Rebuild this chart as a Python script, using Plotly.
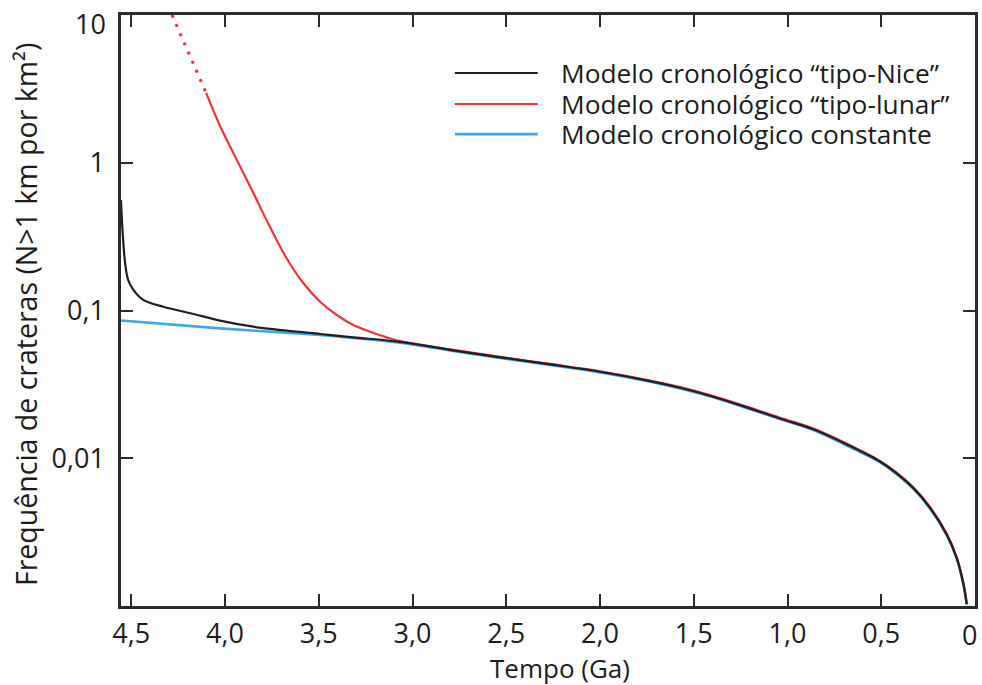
import plotly.graph_objects as go

# Crater-frequency chronology models: N(>1 km) per km^2 versus age (Ga)
nice_age = [4.555, 4.547, 4.533, 4.517, 4.489, 4.436, 4.329, 4.169, 4.027, 3.849,
            3.671, 3.493, 3.316, 3.067, 2.8, 2.533, 2.267, 2.0, 1.733, 1.573,
            1.396, 1.218, 1.04, 0.862, 0.684, 0.507, 0.418, 0.329, 0.24, 0.151,
            0.098, 0.062, 0.044]
nice_n = [0.56, 0.351, 0.209, 0.161, 0.138, 0.118, 0.106, 0.0947, 0.0855, 0.0777,
          0.073, 0.0693, 0.0658, 0.0614, 0.0542, 0.0482, 0.0432, 0.0385, 0.0333, 0.0300,
          0.0261, 0.0221, 0.0186, 0.0157, 0.0124, 0.0095, 0.0079, 0.00628, 0.00462, 0.00305,
          0.00212, 0.00141, 0.00103]

# Lunar-like model: extrapolated (dotted) part and computed (solid) part
lunar_extrap_age = [4.283, 4.196, 4.101]
lunar_extrap_n = [10.0, 5.54, 2.97]
lunar_age = [4.101, 4.027, 3.938, 3.849, 3.760, 3.671, 3.582, 3.493, 3.404, 3.316,
             3.227, 3.138, 3.067, 2.8, 2.533, 2.267, 2.0, 1.733, 1.573, 1.396,
             1.218, 1.04, 0.862, 0.684, 0.507, 0.418, 0.329, 0.24, 0.151, 0.098,
             0.062, 0.044]
lunar_n = [2.97, 1.78, 1.05, 0.623, 0.367, 0.225, 0.153, 0.1147, 0.0932, 0.0797,
           0.0718, 0.0658, 0.0620, 0.0545, 0.0485, 0.0435, 0.0388, 0.0336, 0.0303, 0.0264,
           0.0224, 0.0188, 0.0159, 0.01255, 0.0096, 0.0080, 0.00636, 0.00468, 0.00309, 0.00215,
           0.00143, 0.00104]

const_age = [4.555, 4.027, 3.493, 3.316, 3.067, 2.8, 2.533, 2.267, 2.0, 1.733,
             1.573, 1.396, 1.218, 1.04, 0.862, 0.684, 0.507, 0.418, 0.329, 0.24,
             0.151, 0.098, 0.062, 0.044]
const_n = [0.0855, 0.0757, 0.0682, 0.0651, 0.0605, 0.0537, 0.0477, 0.0428, 0.0381, 0.0330,
           0.0297, 0.0259, 0.0219, 0.0184, 0.0155, 0.0122, 0.0094, 0.0078, 0.0062, 0.00457,
           0.00302, 0.0021, 0.0014, 0.00102]

x_tick_vals = [4.5, 4.0, 3.5, 3.0, 2.5, 2.0, 1.5, 1.0, 0.5, 0.0]
x_tick_text = ["4,5", "4,0", "3,5", "3,0", "2,5", "2,0", "1,5", "1,0", "0,5", ""]
y_tick_vals = [0.01, 0.1, 1]
y_tick_text = ["0,01", "0,1", "1"]

legend_labels = ["Modelo cronológico “tipo-Nice”",
                 "Modelo cronológico “tipo-lunar”",
                 "Modelo cronológico constante"]

BLACK = "#231f20"
RED = "#e8363c"
BLUE = "#3ea7ea"
FONT = "Open Sans"
TXT = "#1c1c1c"

fig = go.Figure()
fig.add_trace(go.Scatter(x=const_age, y=const_n, mode="lines",
                         line=dict(color=BLUE, width=2.6, shape="spline", smoothing=1),
                         showlegend=False))
fig.add_trace(go.Scatter(x=lunar_extrap_age, y=lunar_extrap_n, mode="lines",
                         line=dict(color=RED, width=3, dash="3px,7px"),
                         showlegend=False))
fig.add_trace(go.Scatter(x=lunar_age, y=lunar_n, mode="lines",
                         line=dict(color=RED, width=2.2, shape="spline", smoothing=1),
                         showlegend=False))
fig.add_trace(go.Scatter(x=nice_age, y=nice_n, mode="lines",
                         line=dict(color=BLACK, width=2.2, shape="spline", smoothing=1),
                         showlegend=False))

axis_common = dict(showline=True, linecolor="#2b2b2b", linewidth=2.5, mirror="ticks",
                   ticks="inside", ticklen=12, tickwidth=2, tickcolor="#2b2b2b",
                   showgrid=False, zeroline=False, automargin=False,
                   tickfont=dict(family=FONT, size=27, color=TXT))

fig.update_xaxes(range=[4.555, 0.0], tickvals=x_tick_vals, ticktext=x_tick_text,
                 ticklabelstandoff=2, **axis_common)
fig.update_yaxes(type="log", range=[-3, 1], tickvals=y_tick_vals + [10],
                 ticktext=y_tick_text + [""], ticklabelstandoff=8, **axis_common)

annotations = [
    # end-of-axis labels nudged inside the page
    dict(text="10", x=-0.0152, y=0.985, xref="paper", yref="paper",
         xanchor="right", yanchor="middle", showarrow=False,
         font=dict(family=FONT, size=27, color=TXT)),
    dict(text="0", x=0.9941, y=-0.049, xref="paper", yref="paper",
         xanchor="center", yanchor="middle", showarrow=False,
         font=dict(family=FONT, size=27, color=TXT)),
    dict(text="Tempo (Ga)", x=0.514, y=-0.1045, xref="paper", yref="paper",
         xanchor="center", yanchor="middle", showarrow=False,
         font=dict(family=FONT, size=26, color=TXT)),
    dict(text="Frequência de crateras (N>1 km por km²)", x=-0.1112, y=0.4924,
         xref="paper", yref="paper", xanchor="center", yanchor="middle",
         textangle=-90, showarrow=False,
         font=dict(family=FONT, size=28.5, color=TXT)),
]

# Legend drawn as line samples with labels
legend_colors = [BLACK, RED, BLUE]
legend_widths = [2.2, 2.2, 2.8]
legend_rows = [0.9019, 0.8494, 0.7986]
shapes = []
for label, color, w, yrow in zip(legend_labels, legend_colors, legend_widths, legend_rows):
    shapes.append(dict(type="line", xref="paper", yref="paper",
                       x0=0.391, x1=0.488, y0=yrow, y1=yrow,
                       line=dict(color=color, width=w)))
    annotations.append(dict(text=label, x=0.5129, y=yrow, xref="paper", yref="paper",
                            xanchor="left", yanchor="middle", showarrow=False,
                            font=dict(family=FONT, size=26.3, color=TXT)))

fig.update_layout(width=982, height=685,
                  margin=dict(l=121, r=7, t=15, b=79),
                  paper_bgcolor="white", plot_bgcolor="white",
                  annotations=annotations, shapes=shapes)

fig.write_html("out.html")
